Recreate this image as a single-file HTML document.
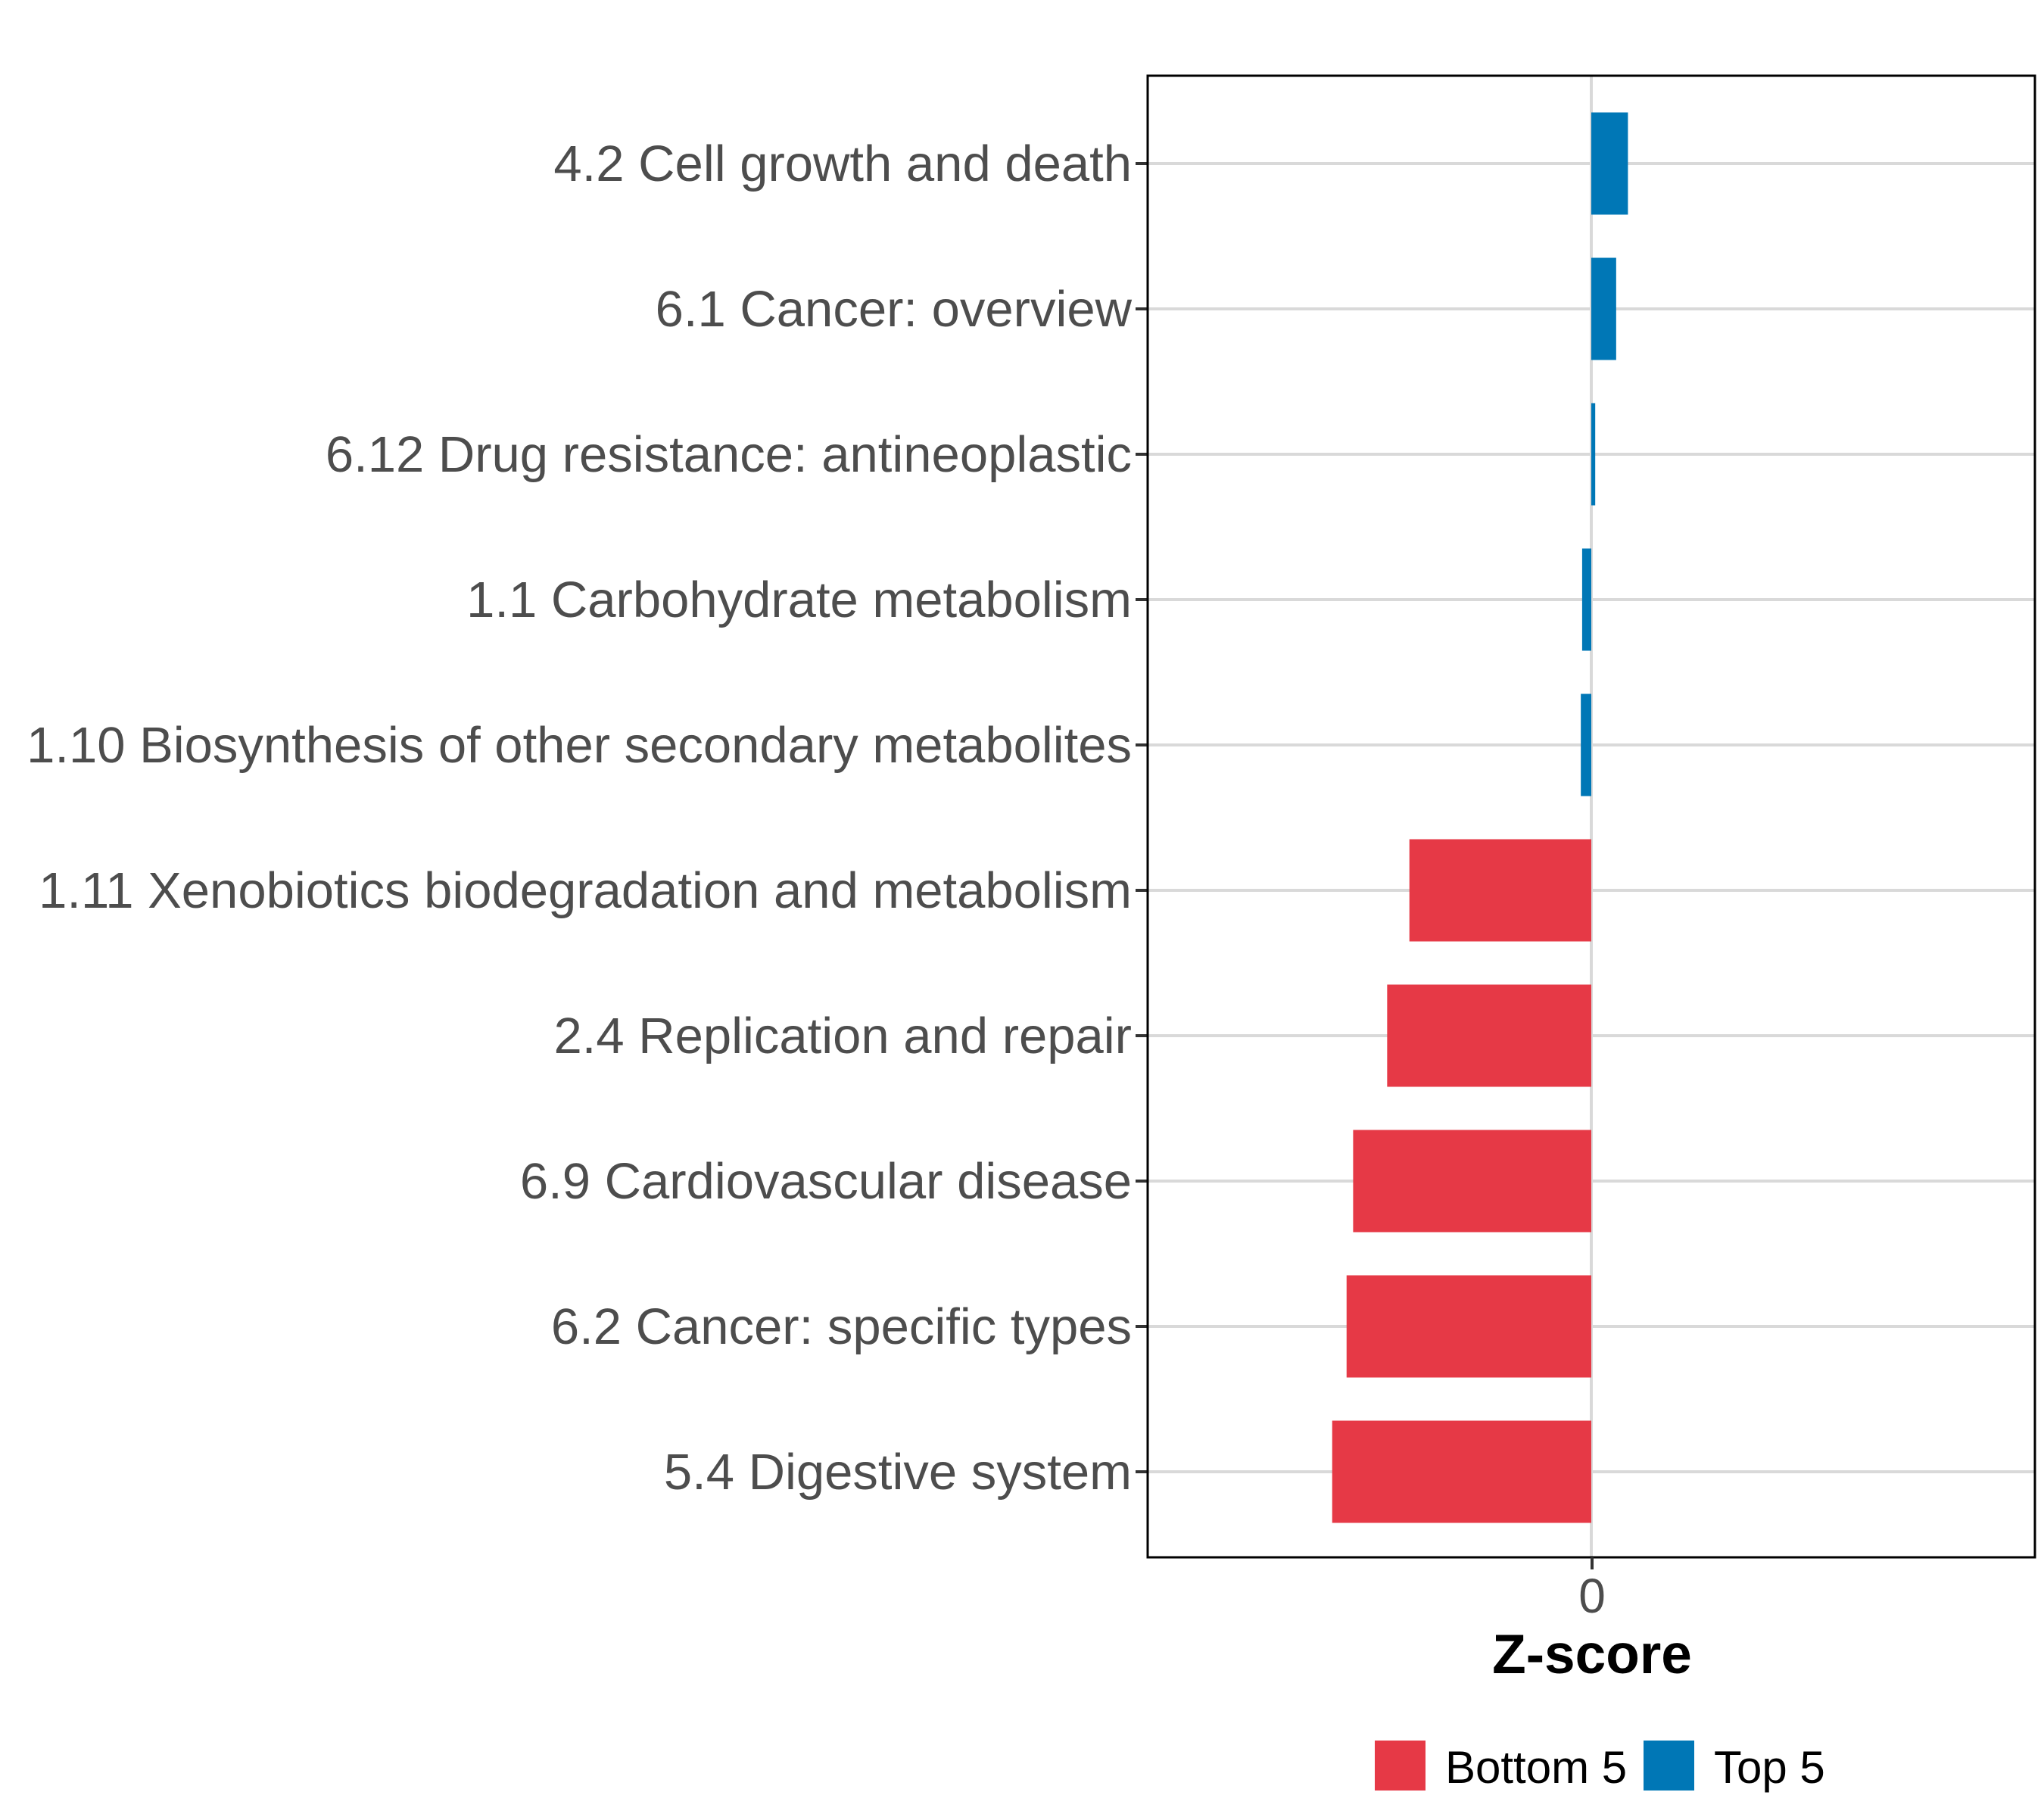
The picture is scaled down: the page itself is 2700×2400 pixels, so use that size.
<!DOCTYPE html>
<html><head><meta charset="utf-8"><style>
html,body{margin:0;padding:0;background:#fff;}
svg{display:block;font-family:"Liberation Sans",Arial,sans-serif;}
</style></head><body>
<svg id="chart" width="2700" height="2400" viewBox="0 0 2700 2400">
<g id="grid"></g>
<g id="bars"></g>
<g id="ylabels"></g>
<rect x="1516" y="100" width="1172" height="1957" fill="none" stroke="#000" stroke-width="3"/>
<line x1="2103" y1="2057" x2="2103" y2="2073" stroke="#333" stroke-width="4"/>
<text x="2103" y="2130" font-size="64" fill="#4d4d4d" text-anchor="middle">0</text>
<text x="2103" y="2210" font-size="73" font-weight="bold" fill="#000" text-anchor="middle">Z-score</text>
<g>
<rect x="1816" y="2299" width="67" height="66" fill="#e63946"/>
<text x="1909" y="2355" font-size="60" fill="#000">Bottom 5</text>
<rect x="2171" y="2299" width="67" height="66" fill="#0077b6"/>
<text x="2264" y="2355" font-size="60" fill="#000">Top 5</text>
</g>
</svg>
<script>
const categories = ["4.2 Cell growth and death","6.1 Cancer: overview","6.12 Drug resistance: antineoplastic","1.1 Carbohydrate metabolism","1.10 Biosynthesis of other secondary metabolites","1.11 Xenobiotics biodegradation and metabolism","2.4 Replication and repair","6.9 Cardiovascular disease","6.2 Cancer: specific types","5.4 Digestive system"];
const zscores = [0.28, 0.19, 0.03, -0.07, -0.08, -1.39, -1.56, -1.82, -1.87, -1.98];
const groups = ["Top 5","Top 5","Top 5","Top 5","Top 5","Bottom 5","Bottom 5","Bottom 5","Bottom 5","Bottom 5"];
const xDomain = [-3.39, 3.39];

const NS = "http://www.w3.org/2000/svg";
const px0 = 1516, px1 = 2688;
function xScale(v){ return px0 + (v - xDomain[0]) / (xDomain[1] - xDomain[0]) * (px1 - px0); }
const rowTop = 216, rowStep = 192;
function yScale(i){ return rowTop + i * rowStep; }
const barH = 135;
const grid = document.getElementById('grid');
const barsG = document.getElementById('bars');
const labG = document.getElementById('ylabels');

categories.forEach((c, i) => {
  const y = yScale(i);
  const gl = document.createElementNS(NS, 'line');
  gl.setAttribute('x1', px0); gl.setAttribute('x2', px1);
  gl.setAttribute('y1', y); gl.setAttribute('y2', y);
  gl.setAttribute('stroke', '#d9d9d9'); gl.setAttribute('stroke-width', '4');
  
  
  grid.appendChild(gl);
  const tk = document.createElementNS(NS, 'line');
  tk.setAttribute('x1', px0 - 16); tk.setAttribute('x2', px0);
  tk.setAttribute('y1', y); tk.setAttribute('y2', y);
  tk.setAttribute('stroke', '#333'); tk.setAttribute('stroke-width', '4');
  
  
  labG.appendChild(tk);
  const t = document.createElementNS(NS, 'text');
  t.setAttribute('x', 1495); t.setAttribute('y', y + 23);
  t.setAttribute('font-size', '67'); t.setAttribute('fill', '#4d4d4d');
  t.setAttribute('text-anchor', 'end');
  t.textContent = c;
  
  
  labG.appendChild(t);
});
const zl = document.createElementNS(NS, 'line');
zl.setAttribute('x1', xScale(0)); zl.setAttribute('x2', xScale(0));
zl.setAttribute('y1', 100); zl.setAttribute('y2', 2057);
zl.setAttribute('stroke', '#d9d9d9'); zl.setAttribute('stroke-width', '4');


grid.appendChild(zl);

zscores.forEach((v, i) => {
  const r = document.createElementNS(NS, 'rect');
  const xa = xScale(Math.min(0, v)), xb = xScale(Math.max(0, v));
  r.setAttribute('x', xa); r.setAttribute('width', Math.max(xb - xa, 1));
  r.setAttribute('y', yScale(i) - barH / 2); r.setAttribute('height', barH);
  r.setAttribute('fill', groups[i] === 'Top 5' ? '#0077b6' : '#e63946');
  
  
  barsG.appendChild(r);
});
</script>
</body></html>
